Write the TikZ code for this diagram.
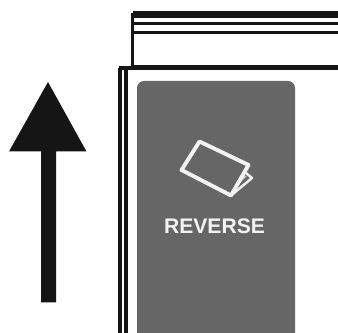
\documentclass[tikz,border=0pt]{standalone}
\usepackage{xcolor}
\usepackage{fontspec}
\setmainfont{Liberation Sans}
\definecolor{inkblack}{HTML}{151515}
\definecolor{panelgray}{HTML}{666666}
\definecolor{iconwhite}{HTML}{F2F2F2}
\definecolor{flapgray}{HTML}{C8C8C8}
\tikzset{
    frameline/.style={draw=inkblack, line width=1.9pt},
    iconline/.style={draw=iconwhite, line width=2.2pt, line join=round, line cap=round},
    flapline/.style={draw=iconwhite, line width=1.4pt, line join=round, line cap=round}
}

\begin{document}
\begin{tikzpicture}[x=0.02cm, y=-0.02cm]
    \useasboundingbox (0,0) rectangle (338,333);

    % top frame
    \draw[frameline] (133,12.5) -- (338,12.5);
    \draw[frameline] (133,16) -- (338,16);
    \draw[frameline] (133,23.5) -- (338,23.5);
    \draw[frameline] (133,32.5) -- (338,32.5);
    \draw[frameline] (132.5,13) -- (132.5,67);
    \draw[draw=inkblack, line width=2.7pt] (132,67.5) -- (338,67.5);

    % left frame
    \draw[frameline] (120,68) -- (120,333);
    \draw[frameline] (126,68) -- (126,333);
    \draw[frameline] (119,68) -- (133,68);

    % panel
    \fill[panelgray, rounded corners=4pt] (137,81) rectangle (295,345);

    % icon
    \fill[flapgray] (243,176) -- (247,176) -- (237,186) -- cycle;
    \draw[flapline] (246,173) -- (252,178) -- (231,195.5);
    \draw[iconline] (199.5,141.5) -- (248.5,165) -- (231,195.5) -- (181.5,170) -- cycle;

    \node[text=iconwhite, font=\bfseries\fontsize{12}{14}\selectfont] (reverse) at (214.5,226) {REVERSE};

    % arrow
    \fill[inkblack] (48,82) -- (86.5,151.5) -- (56,151.5) -- (56,302.5) -- (41,302.5) -- (41,151.5) -- (9,151.5) -- cycle;
\end{tikzpicture}
\end{document}
